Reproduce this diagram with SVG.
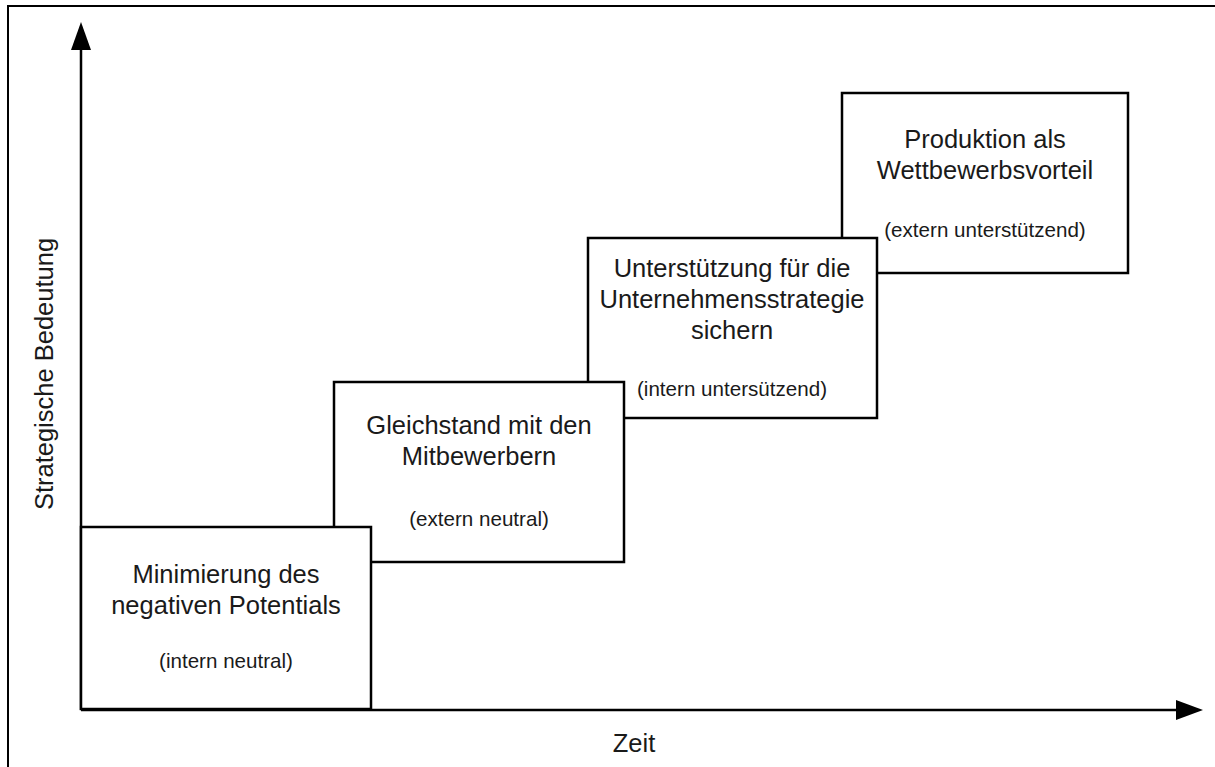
<svg xmlns="http://www.w3.org/2000/svg" width="1215" height="767" viewBox="0 0 1215 767">
  <defs>
    <style>
      .box { fill: #fff; stroke: #000; stroke-width: 2.5; }
      .axis { stroke: #000; stroke-width: 2.5; fill: none; }
      .head { fill: #000; }
      .t { font-family: "Liberation Sans", Arial, sans-serif; fill: #1a1a1a; text-anchor: middle; }
      .big { font-size: 25.5px; }
      .small { font-size: 20.6px; }
    </style>
  </defs>
  <rect width="1215" height="767" fill="#fff"/>
  <!-- outer frame -->
  <rect x="8" y="6" width="1220" height="780" fill="none" stroke="#000" stroke-width="2"/>

  <!-- axes -->
  <g id="connectors">
    <line class="axis" x1="81" y1="710" x2="81" y2="50"/>
    <path class="head" d="M71,50 L81,22 L91,50 Z"/>
    <line class="axis" x1="81" y1="710" x2="1176" y2="710"/>
    <path class="head" d="M1176,700 L1203,710 L1176,720 Z"/>
  </g>

  <!-- steps drawn from highest to lowest so each lower box overlaps the next one -->
  <g id="stufe-4">
    <rect class="box" x="842" y="93" width="286" height="180"/>
    <text class="t big" x="985" y="148">Produktion als</text>
    <text class="t big" x="985" y="179">Wettbewerbsvorteil</text>
    <text class="t small" x="985" y="237">(extern unterstützend)</text>
  </g>

  <g id="stufe-3">
    <rect class="box" x="588" y="238" width="289" height="180"/>
    <text class="t big" x="732" y="277">Unterstützung für die</text>
    <text class="t big" x="732" y="308">Unternehmensstrategie</text>
    <text class="t big" x="732" y="339">sichern</text>
    <text class="t small" x="732" y="396">(intern untersützend)</text>
  </g>

  <g id="stufe-2">
    <rect class="box" x="334" y="382" width="290" height="180"/>
    <text class="t big" x="479" y="434">Gleichstand mit den</text>
    <text class="t big" x="479" y="465">Mitbewerbern</text>
    <text class="t small" x="479" y="526">(extern neutral)</text>
  </g>

  <g id="stufe-1">
    <rect class="box" x="81" y="527" width="290" height="182"/>
    <text class="t big" x="226" y="583">Minimierung des</text>
    <text class="t big" x="226" y="614">negativen Potentials</text>
    <text class="t small" x="226" y="668">(intern neutral)</text>
  </g>

  <g id="achsen-beschriftung">
    <text class="t big" x="634" y="752">Zeit</text>
    <text class="t big" transform="translate(53,374) rotate(-90)" x="0" y="0">Strategische Bedeutung</text>
  </g>
</svg>
